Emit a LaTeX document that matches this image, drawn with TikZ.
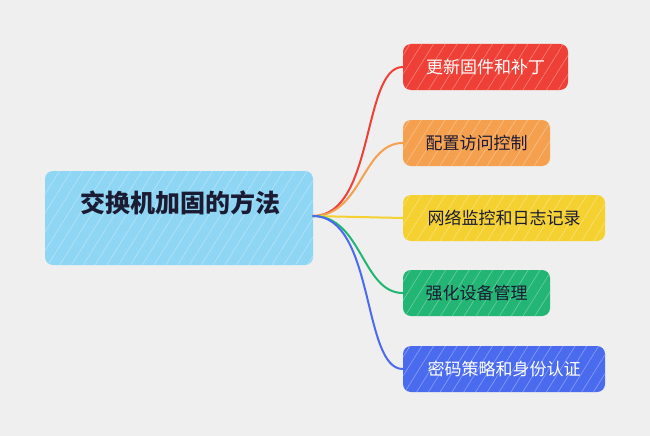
\documentclass[tikz,border=0pt]{standalone}
\usepackage{fontspec}
\setmainfont{Noto Sans CJK SC}
\usepackage{tikz}
\usetikzlibrary{calc,patterns.meta,positioning}

\definecolor{bgcol}{HTML}{EFEFEF}
\definecolor{rootcol}{HTML}{8ED6F4}
\definecolor{redcol}{HTML}{EE4036}
\definecolor{orangecol}{HTML}{F4A04E}
\definecolor{yellowcol}{HTML}{F4D130}
\definecolor{greencol}{HTML}{22B573}
\definecolor{bluecol}{HTML}{4B6BEF}
\definecolor{inkcol}{HTML}{1B1B33}

\tikzset{
  sketchbox/.style={rounded corners=8pt, inner sep=0pt, minimum height=46pt, fill=#1,
    postaction={pattern={Lines[angle=58,distance=10pt,line width=0.6pt]},
      pattern color=#1!65!white}},
  leaf/.style={sketchbox=#1, font=\fontsize{17}{20}\selectfont},
  branch/.style={line width=2pt, line cap=round}
}

\begin{document}
\begin{tikzpicture}[x=1pt,y=-1pt]
  \useasboundingbox[fill=bgcol] (0,0) rectangle (650,436);
  % root
  \node[sketchbox=rootcol, minimum width=268pt, minimum height=94pt] (root) at (179,218) {};
  \node[font=\fontsize{25}{29}\selectfont\bfseries, text=inkcol] (roottitle) at (180,203) {交换机加固的方法};
  % leaves
  \node[leaf=redcol, text=white, minimum width=165pt] (firmware) at (485.5,67) {更新固件和补丁};
  \node[leaf=orangecol, text=inkcol, minimum width=147pt] (access) at (476.5,143) {配置访问控制};
  \node[leaf=yellowcol, text=inkcol, minimum width=202pt] (monitor) at (504,218) {网络监控和日志记录};
  \node[leaf=greencol, text=inkcol, minimum width=147pt] (device) at (476.5,293) {强化设备管理};
  \node[leaf=bluecol, text=white, minimum width=202pt] (password) at (504,369) {密码策略和身份认证};
  \coordinate (O) at (313,216);
  % branches
  \draw[branch, redcol] (O) .. controls (375,216) and (362,67) .. (firmware.west);
  \draw[branch, orangecol] (O) .. controls (362,216) and (362,143) .. (access.west);
  \draw[branch, yellowcol] (O) -- (monitor.west);
  \draw[branch, greencol] (O) .. controls (362,216) and (362,293) .. (device.west);
  \draw[branch, bluecol] (O) .. controls (375,216) and (362,369) .. (password.west);
\end{tikzpicture}
\end{document}
